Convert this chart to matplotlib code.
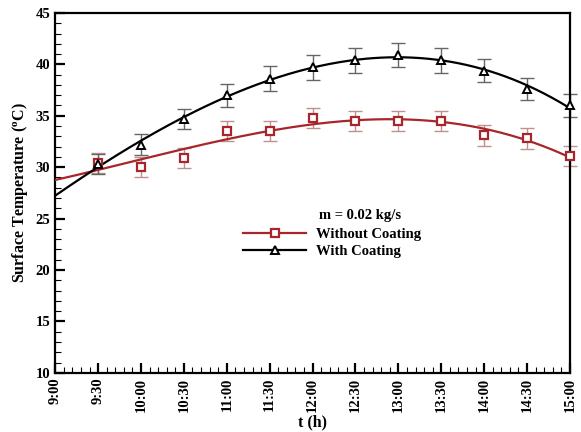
import numpy as np
import matplotlib.pyplot as plt
from matplotlib.ticker import MultipleLocator

plt.rcParams['font.family'] = ['Liberation Serif', 'DejaVu Serif']
plt.rcParams['font.weight'] = 'bold'
plt.rcParams['axes.labelweight'] = 'bold'
plt.rcParams['mathtext.fontset'] = 'custom'
plt.rcParams['mathtext.rm'] = 'Liberation Serif:bold'
plt.rcParams['mathtext.it'] = 'Liberation Serif:bold'

# Time of day in hours (9:30 .. 15:00)
hours = [9.5, 10.0, 10.5, 11.0, 11.5, 12.0, 12.5, 13.0, 13.5, 14.0, 14.5, 15.0]
tick_labels = ['9:00', '9:30', '10:00', '10:30', '11:00', '11:30', '12:00',
               '12:30', '13:00', '13:30', '14:00', '14:30', '15:00']

# Measured surface temperature (°C)
without_coating = [30.4, 30.0, 30.9, 33.5, 33.5, 34.8, 34.5, 34.5, 34.5, 33.1, 32.8, 31.1]
with_coating = [30.3, 32.2, 34.7, 37.0, 38.6, 39.7, 40.4, 40.9, 40.4, 39.4, 37.6, 36.0]

# Measurement uncertainty
err_without = [1.0, 1.0, 1.0, 1.0, 1.0, 1.0, 1.0, 1.0, 1.0, 1.0, 1.0, 1.0]
err_with = [1.0, 1.0, 1.0, 1.1, 1.2, 1.2, 1.2, 1.2, 1.2, 1.1, 1.1, 1.1]

red = '#a8262b'

fig, ax = plt.subplots(figsize=(5.81, 4.32), dpi=100)
fig.subplots_adjust(left=0.095, right=0.981, top=0.970, bottom=0.137)

# polynomial trend lines through the measurements
t_fit = np.linspace(9.0, 15.0, 200)
fit_without = np.polyval(np.polyfit(hours, without_coating, 3), t_fit)
fit_with = np.polyval(np.polyfit(hours, with_coating, 3), t_fit)

ax.errorbar(hours, without_coating, yerr=err_without, fmt='none', ecolor='#c09090',
            elinewidth=1.0, capsize=5, capthick=1.0, zorder=2, clip_on=False)
ax.errorbar(hours, with_coating, yerr=err_with, fmt='none', ecolor='#666666',
            elinewidth=1.0, capsize=5, capthick=1.0, zorder=2, clip_on=False)

ax.plot(t_fit, fit_without, color=red, lw=1.6, zorder=3)
ax.plot(t_fit, fit_with, color='black', lw=1.6, zorder=3)
ax.plot(hours, without_coating, 's', ms=5.5, mfc='white', mec=red, mew=1.6,
        zorder=4, clip_on=False)
ax.plot(hours, with_coating, '^', ms=6, mfc='white', mec='black', mew=1.4,
        zorder=4, clip_on=False)

# legend handles (line + marker)
h1, = ax.plot([], [], color=red, lw=1.6, marker='s', ms=5.5, mfc='white', mec=red, mew=1.6)
h2, = ax.plot([], [], color='black', lw=1.6, marker='^', ms=5.5, mfc='white', mec='black', mew=1.4)
ax.legend([h1, h2], ['Without Coating', 'With Coating'], loc='upper left',
          bbox_to_anchor=(0.34, 0.44), frameon=False, handlelength=4.3,
          handletextpad=0.7, labelspacing=0.3, fontsize=10.5)
ax.text(0.513, 0.42, 'm = 0.02 kg/s', transform=ax.transAxes, fontsize=10.5,
        ha='left', va='bottom')

ax.set_xlim(9.0, 15.0)
ax.set_ylim(10, 45)
ax.set_xticks(np.arange(9.0, 15.01, 0.5))
ax.set_xticklabels(tick_labels, rotation=90, fontsize=10.5)
ax.xaxis.set_minor_locator(MultipleLocator(0.1))
ax.yaxis.set_major_locator(MultipleLocator(5))
ax.yaxis.set_minor_locator(MultipleLocator(1))
ax.tick_params(axis='y', labelsize=10.5)
ax.tick_params(which='major', direction='in', length=7, width=1.6)
ax.tick_params(which='minor', direction='in', length=4, width=0.8)

for s in ax.spines.values():
    s.set_linewidth(1.6)

ax.set_xlabel('t (h)', fontsize=11.5, labelpad=2)
ax.set_ylabel('Surface Temperature ($^{o}$C)', fontsize=11.5, labelpad=4)

fig.savefig('out.png', dpi=100)
